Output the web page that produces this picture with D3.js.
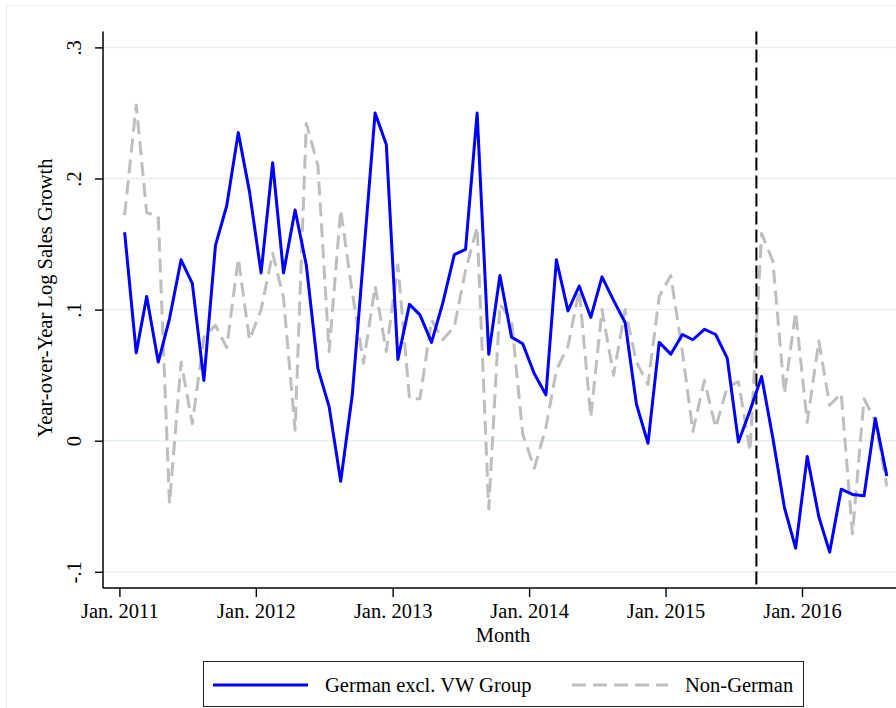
<!DOCTYPE html>
<html>
<head>
<meta charset="utf-8">
<script src="https://cdn.jsdelivr.net/npm/d3@7/dist/d3.min.js"></script>
<style>
  body { margin: 0; background: #fff; }
  svg { display: block; }
  text { font-family: "Liberation Serif", "Times New Roman", serif; fill: #000; }
</style>
</head>
<body>
<svg id="chart" width="896" height="708"></svg>
<script>
// Monthly observations (plotted at mid-month), Jan 2011 - Aug 2016
const months = [
  "2011-01","2011-02","2011-03","2011-04","2011-05","2011-06","2011-07","2011-08","2011-09","2011-10","2011-11","2011-12",
  "2012-01","2012-02","2012-03","2012-04","2012-05","2012-06","2012-07","2012-08","2012-09","2012-10","2012-11","2012-12",
  "2013-01","2013-02","2013-03","2013-04","2013-05","2013-06","2013-07","2013-08","2013-09","2013-10","2013-11","2013-12",
  "2014-01","2014-02","2014-03","2014-04","2014-05","2014-06","2014-07","2014-08","2014-09","2014-10","2014-11","2014-12",
  "2015-01","2015-02","2015-03","2015-04","2015-05","2015-06","2015-07","2015-08","2015-09","2015-10","2015-11","2015-12",
  "2016-01","2016-02","2016-03","2016-04","2016-05","2016-06","2016-07","2016-08"
];

// Year-over-year log sales growth, German brands excluding VW Group
const germanExVW = [
  0.159, 0.067, 0.110, 0.060, 0.093, 0.138, 0.120, 0.046, 0.149, 0.179, 0.235, 0.190,
  0.128, 0.212, 0.128, 0.176, 0.134, 0.055, 0.026, -0.031, 0.035, 0.140, 0.250, 0.226,
  0.062, 0.104, 0.096, 0.075, 0.105, 0.142, 0.146, 0.250, 0.066, 0.126, 0.079, 0.074,
  0.051, 0.035, 0.138, 0.099, 0.118, 0.094, 0.125, 0.107, 0.090, 0.028, -0.002, 0.075,
  0.066, 0.081, 0.077, 0.085, 0.081, 0.063, -0.001, 0.023, 0.049, 0.002, -0.051, -0.082,
  -0.012, -0.058, -0.085, -0.037, -0.041, -0.042, 0.017, -0.027
];

// Year-over-year log sales growth, non-German brands
const nonGerman = [
  0.172, 0.256, 0.174, 0.171, -0.048, 0.060, 0.013, 0.079, 0.088, 0.071, 0.139, 0.077,
  0.100, 0.143, 0.109, 0.008, 0.242, 0.210, 0.068, 0.176, 0.113, 0.059, 0.118, 0.068,
  0.134, 0.032, 0.032, 0.092, 0.077, 0.087, 0.130, 0.163, -0.052, 0.104, 0.092, 0.005,
  -0.021, 0.010, 0.054, 0.072, 0.115, 0.018, 0.100, 0.050, 0.100, 0.060, 0.043, 0.110,
  0.126, 0.068, 0.007, 0.046, 0.010, 0.041, 0.045, -0.008, 0.158, 0.137, 0.036, 0.098,
  0.014, 0.076, 0.027, 0.036, -0.071, 0.032, 0.015, -0.035
];

const yTickValues = [-0.1, 0, 0.1, 0.2, 0.3];
const yTickLabels = ["-.1", "0", ".1", ".2", ".3"];
const xTickYears = [2011, 2012, 2013, 2014, 2015, 2016];
const xTickLabels = ["Jan. 2011", "Jan. 2012", "Jan. 2013", "Jan. 2014", "Jan. 2015", "Jan. 2016"];
const eventDate = "2015-09-01";   // emissions scandal breaks
const seriesNames = ["German excl. VW Group", "Non-German"];

const svg = d3.select("#chart");
const W = 896, H = 708;
const plot = { left: 103, right: 896, top: 31.6, bottom: 588 };
const fontSize = 20.5;
const serif = '"Liberation Serif","Times New Roman",serif';

const midMonth = s => { const [y, m] = s.split("-").map(Number); return new Date(Date.UTC(y, m - 1, 15)); };
const dayDate = s => { const [y, m, d] = s.split("-").map(Number); return new Date(Date.UTC(y, m - 1, d)); };

const x = d3.scaleUtc()
  .domain([new Date(Date.UTC(2011, 0, 1)), new Date(Date.UTC(2016, 0, 1))])
  .range([119.4, 802]);
const y = d3.scaleLinear().domain([-0.1, 0.3]).range([571.8, 47.4]);

// faint graph-region outline
svg.append("rect").attr("x", 6.5).attr("y", 5.5).attr("width", W + 20).attr("height", H + 20)
  .attr("fill", "none").attr("stroke", "#eeeeee").attr("stroke-width", 1);

// horizontal gridlines
svg.append("g").selectAll("line").data(yTickValues).join("line")
  .attr("x1", plot.left).attr("x2", plot.right)
  .attr("y1", d => y(d)).attr("y2", d => y(d))
  .attr("stroke", "#e4edf0").attr("stroke-width", 1.5);

// y axis
const yAxis = svg.append("g").attr("transform", `translate(${plot.left},0)`)
  .call(d3.axisLeft(y).tickValues(yTickValues).tickFormat((d, i) => yTickLabels[i]).tickSize(8).tickSizeOuter(0));
yAxis.select(".domain").remove();
yAxis.selectAll(".tick line").attr("stroke", "#000").attr("stroke-width", 1.4);
yAxis.selectAll(".tick text")
  .attr("x", null).attr("dy", null)
  .attr("text-anchor", "middle")
  .attr("transform", "translate(-22,0) rotate(-90)")
  .style("font-size", fontSize + "px")
  .style("font-family", serif);

// x axis
const xAxis = svg.append("g").attr("transform", `translate(0,${plot.bottom})`)
  .call(d3.axisBottom(x)
    .tickValues(xTickYears.map(yr => new Date(Date.UTC(yr, 0, 1))))
    .tickFormat((d, i) => xTickLabels[i]).tickSize(9).tickSizeOuter(0));
xAxis.select(".domain").remove();
xAxis.selectAll(".tick line").attr("stroke", "#000").attr("stroke-width", 1.4);
xAxis.selectAll(".tick text")
  .attr("y", 30).attr("dy", null)
  .style("font-size", fontSize + "px")
  .style("font-family", serif);

// axis spines
svg.append("line").attr("x1", plot.left).attr("x2", plot.left).attr("y1", plot.top).attr("y2", plot.bottom)
  .attr("stroke", "#000").attr("stroke-width", 1.5);
svg.append("line").attr("x1", plot.left).attr("x2", plot.right).attr("y1", plot.bottom).attr("y2", plot.bottom)
  .attr("stroke", "#000").attr("stroke-width", 1.5);

// axis titles
svg.append("text")
  .attr("transform", "translate(52,298) rotate(-90)")
  .attr("text-anchor", "middle").style("font-size", fontSize + "px")
  .text("Year-over-Year Log Sales Growth");
svg.append("text").attr("x", 503).attr("y", 642)
  .attr("text-anchor", "middle").style("font-size", fontSize + "px")
  .text("Month");

// series
const rows = months.map((m, i) => ({ date: midMonth(m), g: germanExVW[i], n: nonGerman[i] }));
const lineG = d3.line().x(d => x(d.date)).y(d => y(d.g));
const lineN = d3.line().x(d => x(d.date)).y(d => y(d.n));

svg.append("path").datum(rows).attr("d", lineN)
  .attr("fill", "none").attr("stroke", "#bebebe").attr("stroke-width", 3)
  .attr("stroke-dasharray", "14,7").attr("stroke-linejoin", "round");

// event marker
const ex = x(dayDate(eventDate));
svg.append("line").attr("x1", ex).attr("x2", ex).attr("y1", plot.top).attr("y2", plot.bottom)
  .attr("stroke", "#000").attr("stroke-width", 2).attr("stroke-dasharray", "13,5");

svg.append("path").datum(rows).attr("d", lineG)
  .attr("fill", "none").attr("stroke", "#0000ff").attr("stroke-width", 3)
  .attr("stroke-linejoin", "round");

// legend
const leg = svg.append("g");
leg.append("rect").attr("x", 203.5).attr("y", 661.5).attr("width", 600).attr("height", 45)
  .attr("fill", "#fff").attr("stroke", "#222").attr("stroke-width", 1);
leg.append("line").attr("x1", 213).attr("x2", 308).attr("y1", 685).attr("y2", 685)
  .attr("stroke", "#0000ff").attr("stroke-width", 3);
leg.append("text").attr("x", 325).attr("y", 692).style("font-size", fontSize + "px").text(seriesNames[0]);
leg.append("line").attr("x1", 572).attr("x2", 668).attr("y1", 685).attr("y2", 685)
  .attr("stroke", "#bebebe").attr("stroke-width", 3).attr("stroke-dasharray", "14,7");
leg.append("text").attr("x", 685).attr("y", 692).style("font-size", fontSize + "px").text(seriesNames[1]);
</script>
</body>
</html>
